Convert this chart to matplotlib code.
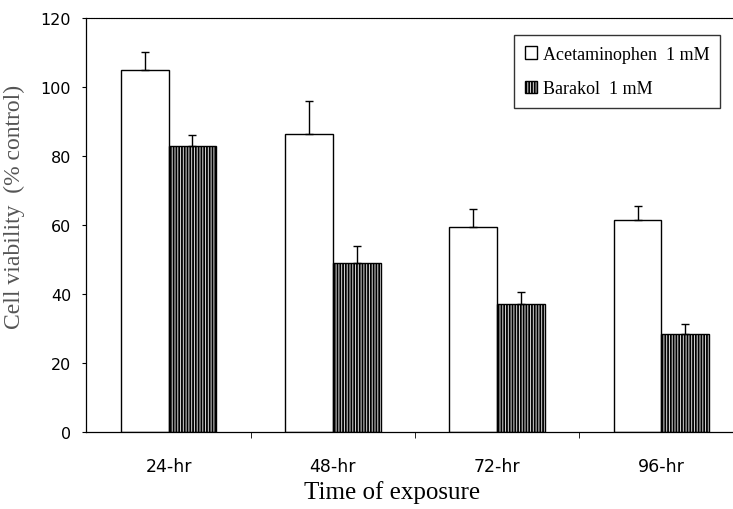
import matplotlib
matplotlib.use("Agg")
import matplotlib.pyplot as plt
import numpy as np

times = ["24-hr", "48-hr", "72-hr", "96-hr"]
acetaminophen = [105, 86.4, 59.5, 61.3]
acetaminophen_err = [5, 9.5, 5.2, 4.2]
barakol = [83, 49, 37.2, 28.3]
barakol_err = [3, 4.8, 3.4, 3]

plt.rcParams['hatch.linewidth'] = 1.3
serif = ["Liberation Serif", "DejaVu Serif"]

fig = plt.figure(figsize=(7.33, 5.10), dpi=100)
ax = fig.add_axes([0.118, 0.151, 0.882, 0.812])

x = np.arange(len(times))
w = 0.29
zeros = np.zeros(len(times))

ax.bar(x - w / 2, acetaminophen, w, color="white", edgecolor="black", linewidth=1.0,
       yerr=[zeros, acetaminophen_err], capsize=3,
       error_kw=dict(elinewidth=1, capthick=1, ecolor="black"),
       label="Acetaminophen  1 mM")
ax.bar(x + w / 2, barakol, w, color="#dddddd", edgecolor="black", linewidth=1.0, hatch="||||||",
       yerr=[zeros, barakol_err], capsize=3,
       error_kw=dict(elinewidth=1, capthick=1, ecolor="black"),
       label="Barakol  1 mM")

ax.set_xlim(-0.5, 3.436)
ax.set_ylim(0, 120)
ax.set_yticks(range(0, 121, 20))
ax.set_xticks(x)
ax.set_xticklabels(times)
ax.set_xticks([0.5, 1.5, 2.5], minor=True)
ax.tick_params(axis="x", which="major", length=0, pad=18, labelsize=12.5)
ax.tick_params(axis="x", which="minor", length=4, direction="out")
ax.tick_params(axis="y", length=3, direction="out", labelsize=11.5, pad=8)

ax.spines["right"].set_visible(False)
ax.spines["top"].set_linestyle((0, (1, 0.5)))
ax.spines["top"].set_linewidth(0.8)
for s in ["left", "bottom"]:
    ax.spines[s].set_linewidth(0.9)

ax.set_xlabel("Time of exposure", fontsize=18, family=serif)
ax.xaxis.set_label_coords(0.473, -0.115)
ax.set_ylabel("Cell viability  (% control)", fontsize=17, family=serif, color="#555555")
ax.yaxis.set_label_coords(-0.095, 0.545)

leg = ax.legend(loc="upper right", bbox_to_anchor=(0.98, 0.958), borderaxespad=0,
                prop={"family": serif, "size": 13},
                fancybox=False, edgecolor="black", handlelength=0.7, handleheight=0.7,
                handletextpad=0.3, borderpad=0.6, labelspacing=0.95)
leg.get_frame().set_linewidth(1.0)

fig.savefig("out.png", dpi=100)
